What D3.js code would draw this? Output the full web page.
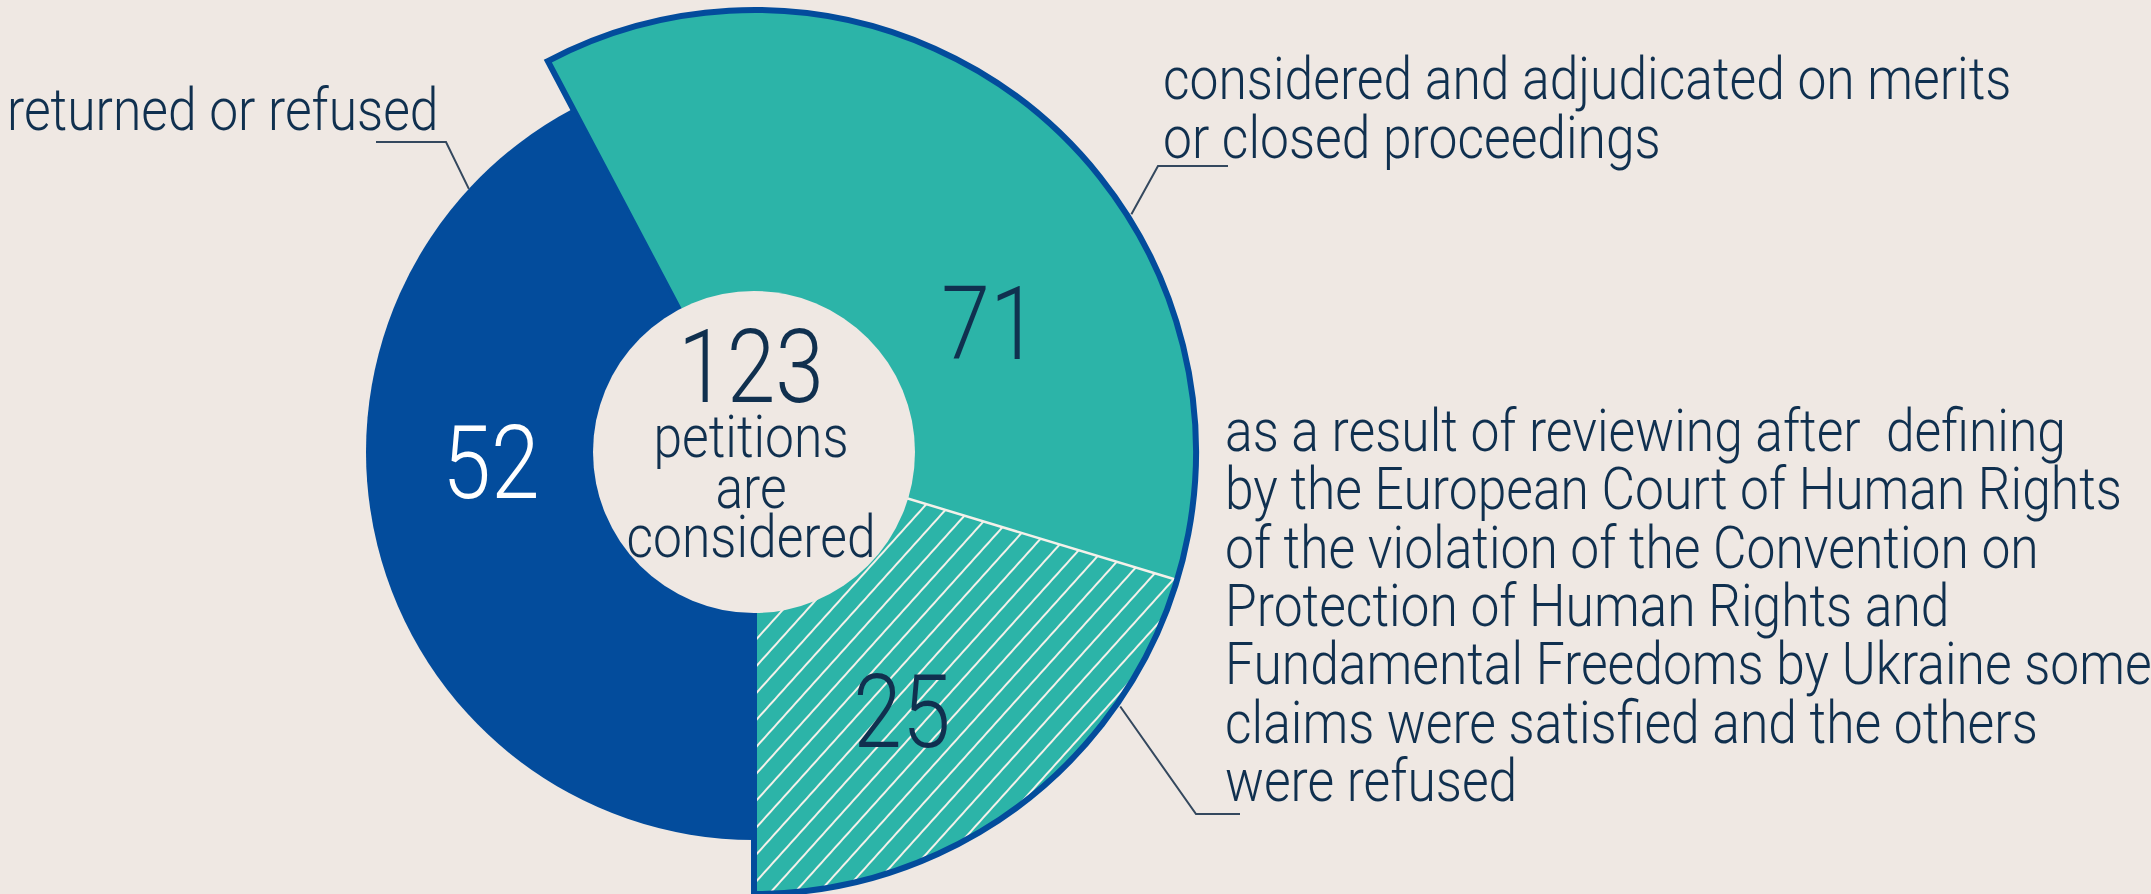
<!DOCTYPE html>
<html>
<head>
<meta charset="utf-8">
<script src="https://cdn.jsdelivr.net/npm/d3@7"></script>
<style>
  html, body { margin: 0; padding: 0; background: #efe8e3; overflow: hidden; }
  text { font-family: Roboto, "Open Sans", sans-serif; font-weight: 300; white-space: pre; }
</style>
</head>
<body>
<script>
// data
var categories = ["returned or refused", "considered and adjudicated on merits or closed proceedings"];
var counts = [52, 71];
var subsetCount = 25;          // part of the 71, drawn hatched
var totalCount = 123;
var centerLines = ["petitions", "are", "considered"];
var labelLines = [
    ["returned or refused"],
    ["considered and adjudicated on merits", "or closed proceedings"],
    ["as a result of reviewing after  defining",
     "by the European Court of Human Rights",
     "of the violation of the Convention on",
     "Protection of Human Rights and",
     "Fundamental Freedoms by Ukraine some",
     "claims were satisfied and the others",
     "were refused"]
];

var width = 2151, height = 894,
    cx = 754, cy = 452,
    rHole = 161, rBlue = 388, rTeal = 442,
    squeeze = 0.86,
    blue = "#034c9c", teal = "#2cb4a8", ink = "#10304f", bg = "#efe8e3";

var svg = d3.select("body").append("svg")
    .attr("width", width)
    .attr("height", height)
    .style("display", "block");

var defs = svg.append("defs");
var hatch = defs.append("pattern")
    .attr("id", "hatch")
    .attr("patternUnits", "userSpaceOnUse")
    .attr("width", 18)
    .attr("height", 18)
    .attr("patternTransform", "rotate(42)");
hatch.append("rect").attr("width", 18).attr("height", 18).attr("fill", teal);
hatch.append("line")
    .attr("x1", 1).attr("y1", 0).attr("x2", 1).attr("y2", 18)
    .attr("stroke", "#f4f1ea").attr("stroke-width", 2);

var g = svg.append("g").attr("transform", "translate(" + cx + "," + cy + ")");

var pie = d3.pie().sort(null).startAngle(Math.PI).endAngle(3 * Math.PI);
var slices = pie(counts);
var returned = slices[0], considered = slices[1];

// angle inside the 71 slice, the last 25 of it are hatched
var inside = d3.scaleLinear()
    .domain([0, counts[1]])
    .range([considered.startAngle, considered.endAngle]);

var tealArc = d3.arc().innerRadius(0).outerRadius(rTeal);
var blueArc = d3.arc().innerRadius(0).outerRadius(rBlue);

g.append("path")
    .attr("d", tealArc(considered))
    .attr("fill", teal);

g.append("path")
    .attr("d", tealArc({startAngle: inside(counts[1] - subsetCount), endAngle: considered.endAngle}))
    .attr("fill", "url(#hatch)");

var cut = d3.pointRadial(inside(counts[1] - subsetCount), rTeal);
g.append("line")
    .attr("x1", 0).attr("y1", 0)
    .attr("x2", cut[0]).attr("y2", cut[1])
    .attr("stroke", "#f4f1ea").attr("stroke-width", 2.5);

g.append("path")
    .attr("d", tealArc(considered))
    .attr("fill", "none")
    .attr("stroke", blue)
    .attr("stroke-width", 6)
    .attr("stroke-linejoin", "miter");

g.append("path")
    .attr("d", blueArc(returned))
    .attr("fill", blue);

g.append("circle")
    .attr("r", rHole)
    .attr("fill", bg);

function say(x, y, str, size, anchor, color) {
    svg.append("g")
        .attr("transform", "translate(" + x + "," + y + ") scale(" + squeeze + ",1)")
        .append("text")
        .attr("text-anchor", anchor)
        .attr("font-size", size)
        .attr("fill", color)
        .text(str);
}

// numbers
say(491, 498, counts[0], 102, "middle", "#ffffff");
say(990, 359, counts[1], 102, "middle", ink);
say(902, 747, subsetCount, 102, "middle", ink);

// centre
say(751, 402, totalCount, 102, "middle", ink);
var centerBase = [457, 508, 557];
centerLines.forEach(function (s, i) {
    say(751, centerBase[i], s, 60, "middle", ink);
});

// category labels
var labelPos = [
    {x: 7, y: 130, step: 59},
    {x: 1163, y: 99, step: 59},
    {x: 1225, y: 451, step: 58.3}
];
labelLines.forEach(function (lines, k) {
    lines.forEach(function (s, i) {
        say(labelPos[k].x, labelPos[k].y + i * labelPos[k].step, s, 60, "start", ink);
    });
});

// leader lines: angle on the rim, elbow, end of the underline
var leaders = [
    {angle: -47.3, r: rBlue, elbow: [446, 142], end: 376},
    {angle: 57.8, r: rTeal + 4, elbow: [1158, 166], end: 1228},
    {angle: 124.8, r: rTeal + 4, elbow: [1196, 814], end: 1240}
];
leaders.forEach(function (d) {
    var p = d3.pointRadial(d.angle * Math.PI / 180, d.r);
    svg.append("path")
        .attr("d", d3.line()([[cx + p[0], cy + p[1]], d.elbow, [d.end, d.elbow[1]]]))
        .attr("fill", "none")
        .attr("stroke", "#34485e")
        .attr("stroke-width", 2);
});
</script>
</body>
</html>
